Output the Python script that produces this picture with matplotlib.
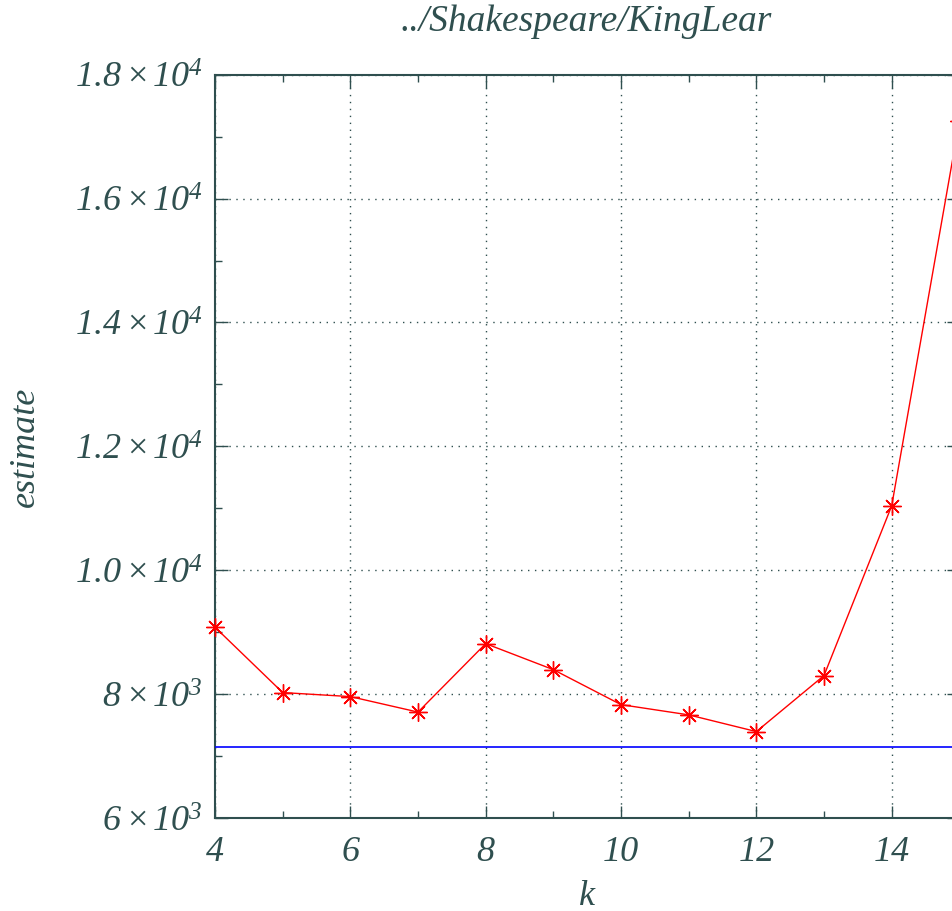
import matplotlib
matplotlib.use("Agg")
import matplotlib.pyplot as plt
from matplotlib.ticker import MultipleLocator, FixedLocator

k_values = [4, 5, 6, 7, 8, 9, 10, 11, 12, 13, 14, 15]
estimates = [9080, 8025, 7960, 7710, 8815, 8395, 7830, 7665, 7395, 8300, 11040, 17250]
baseline = 7145
y_ticks = [6000, 8000, 10000, 12000, 14000, 16000, 18000]
y_tick_labels = [r"$6\;\mathsf{\times}\,10^{3}$",
                 r"$8\;\mathsf{\times}\,10^{3}$",
                 r"$1.0\;\mathsf{\times}\,10^{4}$",
                 r"$1.2\;\mathsf{\times}\,10^{4}$",
                 r"$1.4\;\mathsf{\times}\,10^{4}$",
                 r"$1.6\;\mathsf{\times}\,10^{4}$",
                 r"$1.8\;\mathsf{\times}\,10^{4}$"]
x_ticks = [4, 6, 8, 10, 12, 14]
title = "../Shakespeare/KingLear"

plt.rcParams['mathtext.fontset'] = 'custom'
plt.rcParams['mathtext.rm'] = 'Liberation Serif:italic'
plt.rcParams['mathtext.it'] = 'Liberation Serif:italic'
plt.rcParams['mathtext.sf'] = 'Liberation Serif'
plt.rcParams['font.family'] = 'Liberation Serif'

tc = '#2f4f4f'
FS = 26
fig = plt.figure(figsize=(9.52, 9.12), dpi=100)
W, H = 952, 912
left_px, right_px, top_px, bot_px = 215, 215 + 11 * 67.67, 75.7, 819
ax = fig.add_axes([left_px / W, 1 - bot_px / H, (right_px - left_px) / W, (bot_px - top_px) / H])

ax.axhline(baseline, color='#0000ff', lw=1.2, zorder=3)
ax.plot(k_values, estimates, color='red', lw=1.0, marker=(8, 2, 0), markersize=13,
        markeredgewidth=1.0, zorder=4, clip_on=False)

ax.set_xlim(4, 15)
ax.set_ylim(6000, 18000)
ax.xaxis.set_major_locator(FixedLocator(x_ticks))
ax.xaxis.set_minor_locator(MultipleLocator(1))
ax.yaxis.set_major_locator(FixedLocator(y_ticks))
ax.yaxis.set_minor_locator(MultipleLocator(1000))
ax.set_xticklabels([str(v) for v in x_ticks], fontstyle='italic')
ax.set_yticklabels(y_tick_labels)

ax.tick_params(which='major', direction='in', length=9, width=1.0, color=tc,
               labelsize=FS, labelcolor=tc, top=True, right=True)
ax.tick_params(axis='x', which='major', pad=12)
ax.tick_params(axis='y', which='major', pad=9)
ax.tick_params(which='minor', direction='in', length=5, width=1.0, color=tc,
               top=True, right=True)
ax.grid(True, which='major', linestyle=(0, (1, 4)), color=tc, lw=1.0)

for s in ax.spines.values():
    s.set_color(tc)
    s.set_linewidth(1.5)

ax.set_xlabel('k', fontsize=FS, fontstyle='italic', color=tc)
ax.xaxis.label.set_va('center')
ax.xaxis.set_label_coords(0.5, (bot_px - 897) / (bot_px - top_px))
ax.set_ylabel('estimate', fontsize=FS, fontstyle='italic', color=tc)
ax.yaxis.label.set_va('center')
ax.yaxis.set_label_coords((25 - left_px) / (right_px - left_px), 0.5)
fig.text(586 / W, 1 - 22 / H, title, fontsize=27, fontstyle='italic', color=tc,
         ha='center', va='center')

fig.savefig('out.png', dpi=100)
